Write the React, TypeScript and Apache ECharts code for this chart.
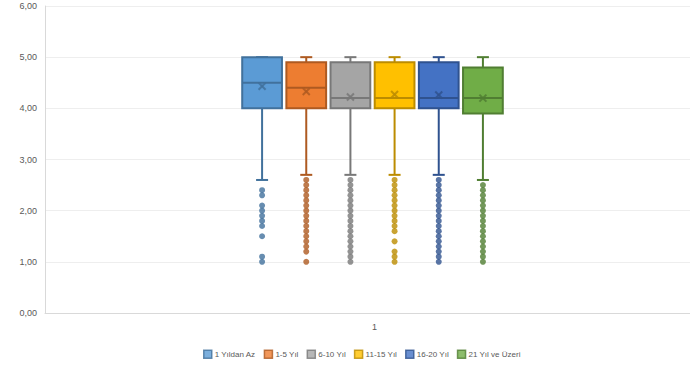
import React, { useEffect, useRef } from "react";
import * as echarts from "echarts";

const groups = ["1 Yıldan Az", "1-5 Yıl", "6-10 Yıl", "11-15 Yıl", "16-20 Yıl", "21 Yıl ve Üzeri"];
const xCategories = ["1"];
const yTicks = [0, 1, 2, 3, 4, 5, 6];

const whiskerLow = [2.6, 2.7, 2.7, 2.7, 2.7, 2.6];
const q1 = [4.0, 4.0, 4.0, 4.0, 4.0, 3.9];
const median = [4.5, 4.4, 4.2, 4.2, 4.2, 4.2];
const q3 = [5.0, 4.9, 4.9, 4.9, 4.9, 4.8];
const whiskerHigh = [5.0, 5.0, 5.0, 5.0, 5.0, 5.0];
const means = [4.43, 4.33, 4.22, 4.27, 4.26, 4.2];

const outliers1 = [2.4, 2.3, 2.1, 2.0, 1.9, 1.8, 1.7, 1.5, 1.1, 1.0];
const outliers2 = [2.6, 2.5, 2.4, 2.3, 2.2, 2.1, 2.0, 1.9, 1.8, 1.7, 1.6, 1.5, 1.4, 1.3, 1.2, 1.0];
const outliers3 = [2.6, 2.5, 2.4, 2.3, 2.2, 2.1, 2.0, 1.9, 1.8, 1.7, 1.6, 1.5, 1.4, 1.3, 1.2, 1.1, 1.0];
const outliers4 = [2.6, 2.5, 2.4, 2.3, 2.2, 2.1, 2.0, 1.9, 1.8, 1.7, 1.6, 1.4, 1.2, 1.1, 1.0];
const outliers5 = [2.6, 2.5, 2.4, 2.3, 2.2, 2.1, 2.0, 1.9, 1.8, 1.7, 1.6, 1.5, 1.4, 1.3, 1.2, 1.1, 1.0];
const outliers6 = [2.5, 2.4, 2.3, 2.2, 2.1, 2.0, 1.9, 1.8, 1.7, 1.6, 1.5, 1.4, 1.3, 1.2, 1.1, 1.0];
const outliers = [outliers1, outliers2, outliers3, outliers4, outliers5, outliers6];

const fills = ["#5B9BD5", "#ED7D31", "#A5A5A5", "#FFC000", "#4472C4", "#70AD47"];
const borders = ["#41719C", "#AE5A21", "#787878", "#BC8C00", "#2F528F", "#507E32"];

const FONT = "Liberation Sans";

export default function App() {
  const ref = useRef<HTMLDivElement>(null);
  useEffect(() => {
    if (!ref.current) return;
    const chart = echarts.init(ref.current, null, { renderer: "svg" });
    const boxData = groups.map((g, i) => [i, whiskerLow[i], q1[i], median[i], q3[i], whiskerHigh[i], means[i]]);
    const option: any = {
      animation: false,
      backgroundColor: "#ffffff",
      textStyle: { fontFamily: FONT },
      grid: [
        { left: 45, right: 0, top: 6, bottom: 54, containLabel: false },
        { left: 240, right: 185, top: 6, bottom: 54, containLabel: false },
      ],
      xAxis: [
        {
          type: "category",
          gridIndex: 0,
          data: xCategories,
          axisLine: { lineStyle: { color: "#D9D9D9", width: 1 } },
          axisTick: { show: false },
          axisLabel: { color: "#595959", fontSize: 9, fontFamily: FONT, margin: 9, padding: [0, 0, 0, 14] },
        },
        {
          type: "category",
          gridIndex: 1,
          data: groups,
          show: false,
        },
      ],
      yAxis: [
        {
          type: "value",
          gridIndex: 0,
          min: 0,
          max: 6,
          interval: 1,
          axisLine: { show: true, lineStyle: { color: "#D9D9D9" } },
          axisTick: { show: false },
          splitLine: { lineStyle: { color: "#EEEEEE" } },
          axisLabel: {
            color: "#595959",
            fontSize: 9,
            fontFamily: FONT,
            margin: 8,
            formatter: (v: number) => (yTicks.includes(v) ? v.toFixed(2).replace(".", ",") : ""),
          },
        },
        {
          type: "value",
          gridIndex: 1,
          min: 0,
          max: 6,
          show: false,
        },
      ],
      legend: {
        bottom: 3,
        left: 198,
        itemWidth: 8,
        itemHeight: 8,
        itemGap: 8,
        icon: "rect",
        textStyle: { color: "#595959", fontSize: 8, fontFamily: FONT, padding: [0, 0, 0, -2] },
        data: groups.map((g, i) => ({
          name: g,
          itemStyle: { color: fills[i], borderColor: borders[i], borderWidth: 1.5 },
        })),
      },
      series: [
        {
          type: "custom",
          name: "boxes",
          xAxisIndex: 1,
          yAxisIndex: 1,
          data: boxData,
          z: 2,
          renderItem: (params: any, api: any) => {
            const i = api.value(0);
            const idx = params.dataIndex;
            const xc = api.coord([i, 0])[0];
            const yLow = api.coord([i, api.value(1)])[1];
            const yQ1 = api.coord([i, api.value(2)])[1];
            const yMed = api.coord([i, api.value(3)])[1];
            const yQ3 = api.coord([i, api.value(4)])[1];
            const yHigh = api.coord([i, api.value(5)])[1];
            const yMean = api.coord([i, api.value(6)])[1];
            const bw = api.size([1, 0])[0] * 0.9;
            const cap = 6;
            const xs = 3.5;
            const stroke = borders[idx];
            const lineStyle = { stroke, lineWidth: 2 };
            return {
              type: "group",
              children: [
                { type: "line", shape: { x1: xc, y1: yHigh, x2: xc, y2: yQ3 }, style: lineStyle },
                { type: "line", shape: { x1: xc, y1: yQ1, x2: xc, y2: yLow }, style: lineStyle },
                { type: "line", shape: { x1: xc - cap, y1: yHigh, x2: xc + cap, y2: yHigh }, style: lineStyle },
                { type: "line", shape: { x1: xc - cap, y1: yLow, x2: xc + cap, y2: yLow }, style: lineStyle },
                {
                  type: "rect",
                  shape: { x: xc - bw / 2, y: yQ3, width: bw, height: yQ1 - yQ3 },
                  style: { fill: fills[idx], stroke, lineWidth: 2 },
                },
                { type: "line", shape: { x1: xc - bw / 2, y1: yMed, x2: xc + bw / 2, y2: yMed }, style: lineStyle },
                {
                  type: "line",
                  shape: { x1: xc - xs, y1: yMean - xs, x2: xc + xs, y2: yMean + xs },
                  style: { stroke, lineWidth: 2, opacity: 0.85 },
                },
                {
                  type: "line",
                  shape: { x1: xc - xs, y1: yMean + xs, x2: xc + xs, y2: yMean - xs },
                  style: { stroke, lineWidth: 2, opacity: 0.85 },
                },
              ],
            };
          },
        },
        ...groups.map((g, i) => ({
          type: "scatter",
          name: g,
          xAxisIndex: 1,
          yAxisIndex: 1,
          symbol: "circle",
          symbolSize: 6,
          z: 3,
          itemStyle: { color: borders[i] },
          data: outliers[i].map((v) => [i, v]),
        })),
      ],
    };
    chart.setOption(option);
    return () => chart.dispose();
  }, []);
  return (
    <div
      ref={ref}
      style={{ position: "fixed", left: 0, top: 0, width: 690, height: 367 }}
    />
  );
}
